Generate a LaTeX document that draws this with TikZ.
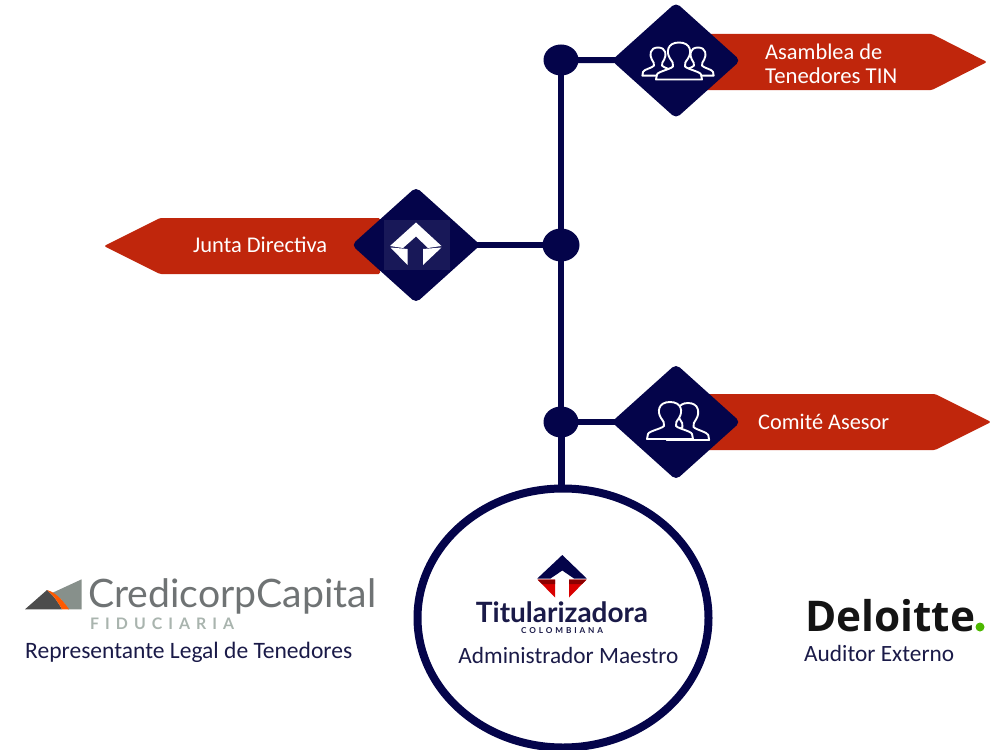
\documentclass[tikz,border=0pt]{standalone}
\usepackage{fontspec}
\usepackage{graphicx}
\setmainfont{Carlito}
\newfontfamily\logofont{Lato}
\newfontfamily\credfont{Lato}
\newfontfamily\delfont{Open Sans}
\usetikzlibrary{shapes.geometric}
\definecolor{navy}{HTML}{04044A}
\definecolor{bannerred}{HTML}{C0260C}
\definecolor{labelblue}{HTML}{1A1A48}
\definecolor{credgray}{HTML}{6F7374}
\definecolor{fidgreen}{HTML}{A9B4AE}
\newcommand{\fitw}[2]{\resizebox{#1bp}{!}{#2}}
\tikzset{
  dia/.style={diamond,aspect=1.115,fill=navy,rounded corners=5bp,inner sep=0pt,minimum width=129bp,minimum height=116bp},
  dot/.style={ellipse,fill=navy,inner sep=0pt,minimum width=35bp,minimum height=31bp},
  wire/.style={draw=navy,line width=6bp},
  banner/.style={fill=bannerred,rounded corners=1.5bp},
  bantext/.style={text=white,inner sep=0pt,align=left},
  lab/.style={text=labelblue,inner sep=0pt},
  persona/.style={fill=navy,draw=white,line width=1.9bp,line join=round},
  person/.pic={
    \path[persona] (-23,37) -- (-22,32) .. controls (-21,29) and (-9,27) .. (-6,24) .. controls (-5,21) and (-7,19) .. (-9,16) .. controls (-13,10) and (-12,0) .. (0,0) .. controls (12,0) and (13,10) .. (9,16) .. controls (7,19) and (5,21) .. (6,24) .. controls (9,27) and (21,29) .. (22,32) -- (23,37) -- cycle;
  }
}
\begin{document}
\begin{tikzpicture}[x=1bp,y=-1bp]
\path[use as bounding box,clip] (0,0) rectangle (991,750);
% banners
\path[banner] (700,34) -- (932,34) -- (987,62) -- (932,90) -- (700,90) -- cycle;
\path[banner] (380,218) -- (160,218) -- (104,246) -- (160,274) -- (380,274) -- cycle;
\path[banner] (700,394) -- (935,394) -- (991,422) -- (935,450) -- (700,450) -- cycle;
% diamonds and dots
\node[dia] (asamblea) at (676,60.5) {};
\node[dia] (junta) at (416,245) {};
\node[dia] (comite) at (676,422) {};
\node[dot] (d1) at (561,60) {};
\node[dot,minimum width=37bp,minimum height=33bp] (d2) at (561,245) {};
\node[dot] (d3) at (561,422) {};
\node[ellipse,draw=navy,fill=white,line width=8bp,inner sep=0pt,minimum width=291bp,minimum height=259bp] (admin) at (563,618) {};
% connectors
\draw[wire] (d1.center) -- (d2.center);
\draw[wire] (d2.center) -- (d3.center);
\draw[wire,line width=7bp] (d3.center) -- (d3.center |- admin.north);
\draw[wire] (d1.center) -- (asamblea.center);
\draw[wire] (d2.center) -- (junta.center);
\draw[wire] (d3.center) -- (comite.center);
% asamblea icon
\begin{scope}[shift={(asamblea.center)}]
  \pic[xscale=.68,yscale=.76] at (-18,-13) {person};
  \pic[xscale=.68,yscale=.76] at (22,-13) {person};
  \pic at (3,-18) {person};
\end{scope}
% comite icon
\begin{scope}[shift={(comite.center)}]
  \pic[xscale=.92,yscale=1] at (12,-19) {person};
  \pic at (-6,-20) {person};
\end{scope}
% junta icon
\fill[navy!92!white] (384,220) rectangle (450,270);
\fill[white] (416,222.5) -- (441.5,246) -- (428,248) -- (416,236.5) -- (403,248) -- (390,246) -- cycle;
\fill[white] (390.5,247.5) -- (407.5,249) -- (407.5,265) -- cycle;
\fill[white] (441.5,247.5) -- (423,249) -- (423,265) -- cycle;
% banner texts
\node[bantext,anchor=west] (t1a) at (765,52) {\fitw{117}{Asamblea de}};
\node[bantext,anchor=west] (t1b) at (765,76) {\fitw{132}{Tenedores TIN}};
\node[bantext,anchor=west] (t2) at (193,245) {\fitw{134}{Junta Directiva}};
\node[bantext,anchor=west] (t3) at (758,422) {\fitw{131}{Comité Asesor}};
% titularizadora logo
\fill[navy] (562.3,555) -- (586.7,578.5) -- (574,578.5) -- (562.3,570.5) -- (550.5,578.5) -- (537.3,578.5) -- cycle;
\fill[red!85!black] (537.5,579.5) -- (555,579.5) -- (555,597.5) -- cycle;
\fill[red!85!black] (586.5,579.5) -- (569,579.5) -- (569,597.5) -- cycle;
\fill[red!55!black] (537.5,579.5) -- (555,579.5) -- (555,584) -- (542,584) -- cycle;
\fill[red!55!black] (586.5,579.5) -- (569,579.5) -- (569,584) -- (582,584) -- cycle;
\node[inner sep=0pt,text=labelblue,anchor=center] (titu) at (562,612.5) {\fitw{172}{\logofont\bfseries Titularizadora}};
\node[inner sep=0pt,text=labelblue,anchor=center] (colom) at (562,631) {\fitw{82}{\logofont\bfseries C\hspace{.35em}O\hspace{.35em}L\hspace{.35em}O\hspace{.35em}M\hspace{.35em}B\hspace{.35em}I\hspace{.35em}A\hspace{.35em}N\hspace{.35em}A}};
\node[lab,anchor=center] (lab2) at (568.5,655) {\fitw{220}{Administrador Maestro}};
% credicorp logo
\fill[fidgreen!80!black] (52,593) -- (81.7,579.3) -- (81.7,609.3) -- (68,609.3) .. controls (63,600) and (58,596) .. cycle;
\fill[black!70] (25,609.3) -- (47,590) .. controls (54,596) and (58,602) .. (62,609.3) -- cycle;
\fill[orange!70!red] (47,590) -- (51,591.5) .. controls (58,595) and (64,602) .. (69,609.3) -- (62,609.3) .. controls (58,602) and (54,596) .. cycle;
\node[inner sep=0pt,text=credgray,anchor=west] (cred) at (88,596) {\fitw{288}{\credfont CredicorpCapital}};
\node[inner sep=0pt,text=fidgreen,anchor=west] (fid) at (90,624) {\fitw{144}{\credfont\bfseries F\hspace{.38em}I\hspace{.38em}D\hspace{.38em}U\hspace{.38em}C\hspace{.38em}I\hspace{.38em}A\hspace{.38em}R\hspace{.38em}I\hspace{.38em}A}};
\node[lab,anchor=west] (lab1) at (25,652) {\fitw{327}{Representante Legal de Tenedores}};
% deloitte logo
\node[inner sep=0pt,text=black!92,anchor=west] (del) at (805,616) {\fitw{170}{\delfont\bfseries Deloitte}};
\node[circle,fill=green!60!black!70!yellow,inner sep=0pt,minimum size=9bp] (deldot) at (980,627) {};
\node[lab,anchor=west] (lab3) at (804,653) {\fitw{150}{Auditor Externo}};
\end{tikzpicture}
\end{document}
